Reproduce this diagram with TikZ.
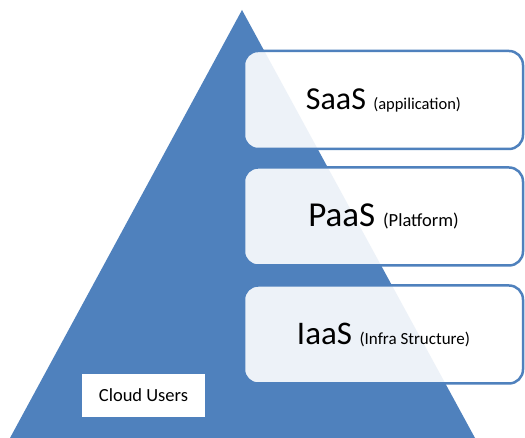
\documentclass[tikz,border=0pt]{standalone}
\usepackage{fontspec}
\setmainfont{Carlito}
\definecolor{offblue}{HTML}{4F81BD}
\tikzset{
  layerbox/.style={draw=offblue, line width=2.5pt, fill=white, fill opacity=0.9, text opacity=1,
    rounded corners=14pt, minimum width=279pt, minimum height=98pt, inner sep=0pt, text=black},
  userbox/.style={fill=white, minimum width=123pt, minimum height=43pt, inner sep=0pt, text=black},
}
\newcommand{\bigfs}[1]{\fontsize{#1}{#1}\selectfont}
\begin{document}
\begin{tikzpicture}[x=1pt,y=1pt]
\useasboundingbox (0,0) rectangle (525,438);
\fill[white] (0,0) rectangle (525,438);
\fill[offblue] (10,0) -- (242,428) -- (475,0) -- cycle;
\node[layerbox] (saas) at (383.5,338) {\bigfs{32}SaaS \bigfs{16.5}(appilication)};
\node[layerbox] (paas) at (383.5,221.5) {\bigfs{35}PaaS \bigfs{18.5}(Platform)};
\node[layerbox] (iaas) at (383.5,103.5) {\bigfs{33}IaaS \bigfs{17}(Infra Structure)};
\node[userbox] (users) at (143.5,42.5) {\bigfs{18.5}Cloud Users};
\end{tikzpicture}
\end{document}
